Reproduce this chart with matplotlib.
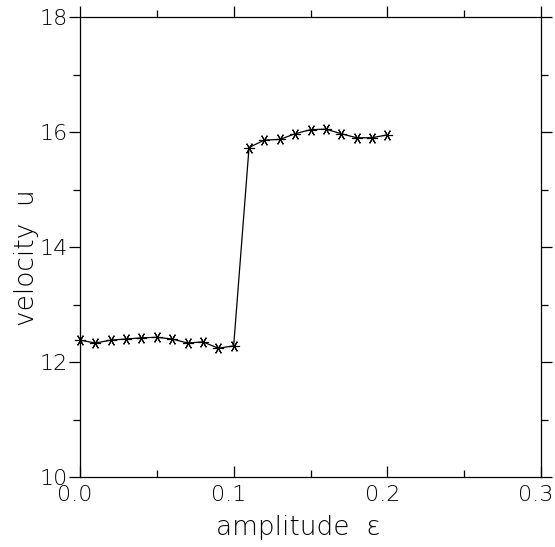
import matplotlib
matplotlib.use('Agg')
import matplotlib.pyplot as plt
from matplotlib.ticker import MultipleLocator
from matplotlib import lines as mlines
from matplotlib.transforms import ScaledTranslation

# amplitude vs velocity
amplitude = [0.00, 0.01, 0.02, 0.03, 0.04, 0.05, 0.06, 0.07, 0.08, 0.09, 0.10,
             0.11, 0.12, 0.13, 0.14, 0.15, 0.16, 0.17, 0.18, 0.19, 0.20]
velocity = [12.38, 12.33, 12.38, 12.40, 12.42, 12.43, 12.40, 12.33, 12.35, 12.24, 12.28,
            15.73, 15.86, 15.87, 15.97, 16.04, 16.05, 15.97, 15.90, 15.90, 15.95]

xticks = [0.0, 0.1, 0.2, 0.3]
xticklabels = ['0.0', '0.1', '0.2', '0.3']
yticks = [10, 12, 14, 16, 18]

plt.rcParams['font.family'] = ['DejaVu Sans']
plt.rcParams['font.weight'] = 'light'
plt.rcParams['axes.labelweight'] = 'light'

fig = plt.figure(figsize=(5.55, 5.47), dpi=100)
ax = fig.add_axes([80/555, 1 - 477/547, 461/555, 460/547])

ax.plot(amplitude, velocity, color='black', linewidth=0.9,
        marker=(6, 2, 90), markersize=8, markeredgewidth=0.8, clip_on=False)

ax.set_xlim(0, 0.3)
ax.set_ylim(10, 18)
ax.set_xticks(xticks)
ax.set_xticklabels(xticklabels)
ax.set_yticks(yticks)
ax.xaxis.set_minor_locator(MultipleLocator(0.05))
ax.yaxis.set_minor_locator(MultipleLocator(1))

ax.tick_params(axis='x', which='both', direction='in', top=True, labelsize=16, pad=6)
ax.tick_params(axis='y', which='both', direction='out', right=True, labelsize=16, pad=1)
ax.tick_params(which='major', length=8, width=0.9)
ax.tick_params(which='minor', length=5, width=0.9)
# top and right ticks point outward
for t in ax.xaxis.get_major_ticks() + ax.xaxis.get_minor_ticks():
    t.tick2line.set_marker(mlines.TICKUP)
for t in ax.yaxis.get_major_ticks() + ax.yaxis.get_minor_ticks():
    t.tick2line.set_marker(mlines.TICKRIGHT)

# x tick labels sit a little left of their ticks
shift = ScaledTranslation(-5/100, 0, fig.dpi_scale_trans)
for lbl in ax.get_xticklabels():
    lbl.set_transform(lbl.get_transform() + shift)

for s in ax.spines.values():
    s.set_linewidth(0.9)

ax.set_xlabel('amplitude  ε', fontsize=19)
ax.set_ylabel('velocity  u', fontsize=19)
ax.xaxis.set_label_coords(0.473, -0.082)
ax.yaxis.set_label_coords(-0.089, 0.476)

fig.savefig('out.png', dpi=100)
